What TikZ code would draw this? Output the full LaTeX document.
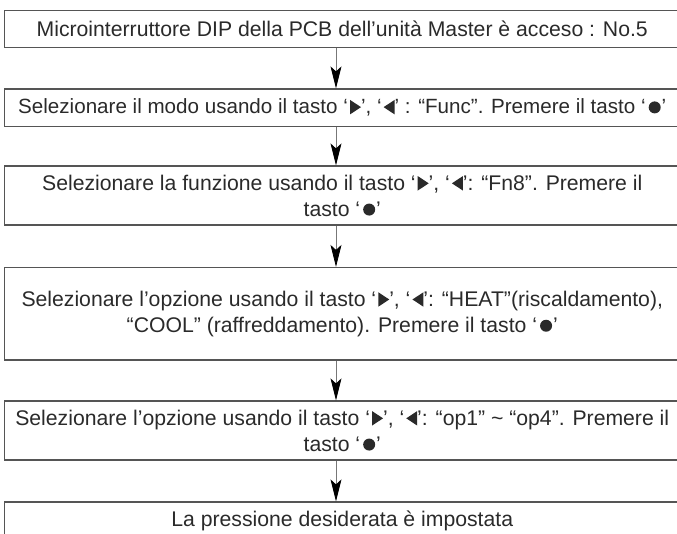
\documentclass[tikz,border=0pt]{standalone}
\usepackage{fontspec}
\setmainfont{Liberation Sans}
\usetikzlibrary{arrows.meta}
\definecolor{boxline}{HTML}{555555}
\definecolor{txt}{HTML}{2A2A2A}
\definecolor{arrline}{HTML}{777777}
\newcommand{\Rt}{\hspace{2pt}\tikz[baseline=0pt]\fill[txt] (0pt,-0.5pt) -- (0pt,14pt) -- (11pt,6.75pt) -- cycle;}
\newcommand{\Lt}{\hspace{2pt}\tikz[baseline=0pt]\fill[txt] (11pt,-0.5pt) -- (11pt,14pt) -- (0pt,6.75pt) -- cycle;}
\newcommand{\Dot}{\hspace{3pt}\tikz[baseline=0pt]\fill[txt] (6pt,6.5pt) circle[radius=6pt];\hspace{1pt}}
\tikzset{
  box/.style={draw=boxline, line width=1.2pt, minimum width=675.5pt,
    align=center, inner sep=0pt, text=txt, font=\fontsize{21.2}{26}\selectfont},
  flow/.style={draw=arrline, line width=0.8pt, -{Stealth[length=22pt,width=11pt,inset=5pt,color=black]}}
}
\begin{document}
\begin{tikzpicture}[x=1pt,y=-1pt]
\useasboundingbox (0,0) rectangle (677,534);
\clip (0,0) rectangle (677,534);
\coordinate (ax) at (336,0);
\node[box, minimum height=37pt] (b1) at (342.25,29) {Microinterruttore DIP della PCB dell’unità Master è acceso : No.5};
\node[box, minimum height=37.5pt, font=\fontsize{20.6}{26}\selectfont] (b2) at (342.25,107.75) {Selezionare il modo usando il tasto ‘\Rt’, ‘\Lt’ : “Func”. Premere il tasto ‘\Dot’};
\node[box, minimum height=59pt] (b3) at (342.25,195.5) {Selezionare la funzione usando il tasto ‘\Rt’, ‘\Lt’: “Fn8”. Premere il\\ tasto ‘\Dot’};
\node[box, minimum height=92.5pt] (b4) at (342.25,313.75) {Selezionare l’opzione usando il tasto ‘\Rt’, ‘\Lt’: “HEAT”(riscaldamento),\\ “COOL” (raffreddamento). Premere il tasto ‘\Dot’};
\node[box, minimum height=59pt] (b5) at (342.25,430.5) {Selezionare l’opzione usando il tasto ‘\Rt’, ‘\Lt’: “op1” \textasciitilde{} “op4”. Premere il\\ tasto ‘\Dot’};
\node[box, minimum height=37pt] (b6) at (342.25,520.5) {La pressione desiderata è impostata};
\draw[flow] (b1.south -| ax) -- (b2.north -| ax);
\draw[flow] (b2.south -| ax) -- (b3.north -| ax);
\draw[flow] (b3.south -| ax) -- (b4.north -| ax);
\draw[flow] (b4.south -| ax) -- (b5.north -| ax);
\draw[flow] (b5.south -| ax) -- (b6.north -| ax);
\end{tikzpicture}
\end{document}
